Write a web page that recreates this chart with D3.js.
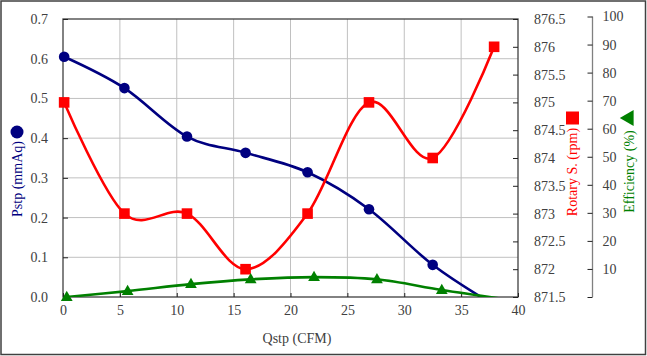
<!DOCTYPE html>
<html><head><meta charset="utf-8">
<script src="https://cdn.jsdelivr.net/npm/d3@7/dist/d3.min.js"></script>
<style>body{margin:0;background:#fff}svg{display:block}text{font-family:"Liberation Serif","Times New Roman",serif}</style>
</head><body>
<svg id="c" width="647" height="356"></svg>
<script>
// ---- data ----
const qstp = [0.1, 5.4, 10.9, 16.05, 21.5, 26.9, 32.5, 37.9];
const pstp = [0.605, 0.526, 0.404, 0.363, 0.314, 0.221, 0.081, -0.02];
const rpm = [875.0, 873.0, 873.0, 872.0, 873.0, 875.0, 874.0, 876.0];
const qEff = [0.33, 5.68, 11.25, 16.5, 22.07, 27.6, 33.3, 38.9];
const eff = [0.0, 2.1, 4.6, 6.3, 7.1, 6.3, 2.5, -0.8];
const xTicks = [0, 5, 10, 15, 20, 25, 30, 35, 40];
const pTicks = [0, 0.1, 0.2, 0.3, 0.4, 0.5, 0.6, 0.7];
const rTicks = [871.5, 872, 872.5, 873, 873.5, 874, 874.5, 875, 875.5, 876, 876.5];
const eTicks = [0, 10, 20, 30, 40, 50, 60, 70, 80, 90, 100];
const labels = {x: "Qstp (CFM)", p: "Pstp (mmAq)", r: "Rotary S. (rpm)", e: "Efficiency (%)"};

const svg = d3.select("#c");
const L = 63, R = 518, T = 19, B = 297;
const x = d3.scaleLinear().domain([0, 40]).range([L, R]);
const yP = d3.scaleLinear().domain([0, 0.7]).range([B, T]);
const yR = d3.scaleLinear().domain([871.5, 876.5]).range([B, T]);
const yE = d3.scaleLinear().domain([0, 100]).range([B, 16.5]);
const txt = "#404040", grid = "#c0c0c0", ax = "#404040";

// outer frame
svg.append("rect").attr("x", 1).attr("y", 1).attr("width", 644.5).attr("height", 353.5)
  .attr("fill", "none").attr("stroke", "#404040").attr("stroke-width", 1.5);

// gridlines
svg.append("g").selectAll("line").data(xTicks.filter(d => d > 0 && d < 40)).join("line")
  .attr("x1", d => x(d)).attr("x2", d => x(d)).attr("y1", T).attr("y2", B)
  .attr("stroke", grid).attr("stroke-width", 1);
svg.append("g").selectAll("line").data(pTicks.filter(d => d > 0 && d < 0.7)).join("line")
  .attr("y1", d => yP(d)).attr("y2", d => yP(d)).attr("x1", L).attr("x2", R)
  .attr("stroke", grid).attr("stroke-width", 1);

// plot frame
svg.append("rect").attr("x", L).attr("y", T).attr("width", R - L).attr("height", B - T)
  .attr("fill", "none").attr("stroke", ax).attr("stroke-width", 1.3);

function styleAxis(g) {
  g.select(".domain").remove();
  g.selectAll(".tick line").attr("stroke", "#222");
  g.selectAll(".tick text").attr("fill", txt).style("font-size", "14px")
    .style("font-family", '"Liberation Serif", serif');
}
// bottom axis
svg.append("g").attr("transform", `translate(0,${B})`)
  .call(d3.axisBottom(x).tickValues(xTicks).tickFormat(d3.format("d")).tickSizeInner(-4).tickSizeOuter(0).tickPadding(8))
  .call(styleAxis);
// left axis
svg.append("g").attr("transform", `translate(${L},0)`)
  .call(d3.axisLeft(yP).tickValues(pTicks).tickFormat(d3.format(".1f")).tickSizeInner(-5).tickSizeOuter(0).tickPadding(15))
  .call(styleAxis);
// rotary axis
svg.append("g").attr("transform", `translate(${R},0)`)
  .call(d3.axisRight(yR).tickValues(rTicks).tickFormat(d => d3.format("")(d)).tickSizeInner(-5).tickSizeOuter(0).tickPadding(16))
  .call(styleAxis);
// efficiency axis
const EX = 592.5;
svg.append("line").attr("x1", EX).attr("x2", EX).attr("y1", yE(100)).attr("y2", yE(0))
  .attr("stroke", "#808080").attr("stroke-width", 1.3);
const ge = svg.append("g").attr("transform", `translate(${EX},0)`)
  .call(d3.axisRight(yE).tickValues(eTicks).tickFormat(d => d === 0 ? "" : d).tickSizeInner(-5).tickSizeOuter(0).tickPadding(10))
  .call(styleAxis);

// clip
svg.append("clipPath").attr("id", "clip").append("rect")
  .attr("x", L).attr("y", T - 5).attr("width", R - L).attr("height", B - T + 5);

const curve = d3.curveCatmullRom.alpha(0);
function series(xs, ys, ysc, color) {
  const pts = xs.map((d, i) => [d, ys[i]]);
  svg.append("path").datum(pts).attr("clip-path", "url(#clip)")
    .attr("d", d3.line().x(d => x(d[0])).y(d => ysc(d[1])).curve(curve))
    .attr("fill", "none").attr("stroke", color).attr("stroke-width", 2.6);
  return pts.filter(d => ysc.domain()[0] <= d[1]);
}
const bp = series(qstp, pstp, yP, "#000080");
const rp = series(qstp, rpm, yR, "#ff0000");
const ep = series(qEff, eff, yE, "#008000");

svg.append("g").selectAll("circle").data(bp).join("circle")
  .attr("cx", d => x(d[0])).attr("cy", d => yP(d[1])).attr("r", 5.3).attr("fill", "#000080");
svg.append("g").selectAll("rect").data(rp).join("rect")
  .attr("x", d => x(d[0]) - 5.3).attr("y", d => yR(d[1]) - 5.3).attr("width", 10.6).attr("height", 10.6).attr("fill", "#ff0000");
const tri = d3.symbol().type(d3.symbolTriangle).size(60);
svg.append("g").selectAll("path").data(ep).join("path")
  .attr("transform", d => `translate(${x(d[0])},${yE(d[1]) + 0.5})`).attr("d", tri).attr("fill", "#008000");

// axis titles
svg.append("text").attr("x", 297).attr("y", 338).attr("text-anchor", "middle").attr("dominant-baseline", "central")
  .attr("fill", txt).style("font-size", "14px").text(labels.x);
function vtitle(cx, cy, s, color) {
  svg.append("text").attr("transform", `translate(${cx},${cy}) rotate(-90)`).attr("text-anchor", "middle")
    .attr("dominant-baseline", "central").attr("fill", color).style("font-size", "14px").text(s);
}
vtitle(17, 179, labels.p, "#000080");
vtitle(572.5, 172, labels.r, "#ff0000");
vtitle(629, 171.5, labels.e, "#008000");
// legend markers next to titles
svg.append("circle").attr("cx", 17).attr("cy", 132).attr("r", 6.5).attr("fill", "#000080");
svg.append("rect").attr("x", 566).attr("y", 111.5).attr("width", 13).attr("height", 13).attr("fill", "#ff0000");
svg.append("path").attr("transform", "translate(629,118) rotate(-90)").attr("d", d3.symbol().type(d3.symbolTriangle).size(110)).attr("fill", "#008000");
</script>
</body></html>
